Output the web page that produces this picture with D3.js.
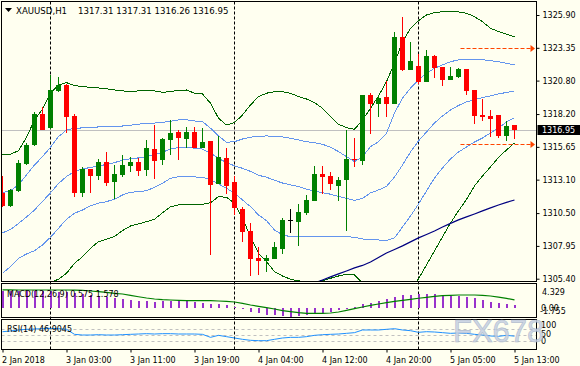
<!DOCTYPE html>
<html lang="en">
<head>
<meta charset="UTF-8">
<title>XAUUSD,H1</title>
<script src="https://d3js.org/d3.v7.min.js"></script>
<style>
  body { margin: 0; background: #fffff0; }
  svg { display: block; font-family: "DejaVu Sans", sans-serif; font-size: 8px; }
</style>
</head>
<body>
<div id="chart"></div>
<script>
// hourly bars, 2 Jan 19:00 .. 5 Jan 13:00 (65 bars)
const open = [1312.09,1311.07,1312.24,1314.32,1315.77,1318.20,1317.09,1319.99,1320.46,1318.05,
  1312.04,1313.93,1313.41,1314.47,1312.94,1313.46,1314.16,1314.47,1313.85,1315.48,
  1314.63,1316.18,1316.83,1316.26,1316.80,1315.56,1316.11,1312.79,1314.78,1312.92,
  1310.82,1309.11,1307.01,1306.80,1306.95,1307.73,1309.94,1309.83,1310.48,1311.46,
  1313.54,1313.38,1312.63,1313.09,1314.68,1314.57,1319.68,1319.00,1319.50,1319.00,
  1324.19,1321.62,1321.96,1320.71,1322.71,1321.86,1320.85,1321.10,1321.70,1320.07,
  1318.13,1318.05,1318.11,1316.52,1317.31];
const high = [1313.38,1312.35,1314.63,1315.97,1318.38,1318.77,1321.24,1321.10,1320.50,1318.20,
  1314.11,1313.95,1314.68,1315.25,1314.22,1315.02,1314.89,1314.76,1316.18,1317.35,
  1316.34,1317.74,1316.96,1317.22,1317.22,1317.09,1316.11,1316.47,1315.56,1313.41,
  1311.00,1309.71,1307.84,1307.24,1308.27,1310.10,1310.82,1311.21,1311.91,1314.18,
  1314.18,1313.67,1313.33,1316.96,1316.36,1319.68,1319.81,1319.68,1320.77,1324.58,
  1325.77,1323.80,1322.84,1323.18,1322.79,1321.86,1321.86,1321.80,1321.70,1320.07,
  1319.39,1318.52,1318.13,1317.64,1317.31];
const low = [1311.00,1311.00,1312.16,1314.26,1315.72,1316.96,1317.01,1319.94,1316.70,1311.73,
  1311.73,1312.04,1313.07,1312.61,1311.62,1313.28,1313.72,1313.41,1313.41,1313.15,
  1314.26,1315.04,1314.63,1315.56,1315.54,1315.56,1307.24,1312.79,1311.98,1310.37,
  1308.28,1305.63,1305.69,1305.94,1306.95,1307.34,1308.93,1307.96,1310.35,1311.46,
  1311.98,1312.30,1311.46,1309.13,1314.06,1314.24,1316.63,1317.95,1317.99,1319.00,
  1321.52,1321.62,1320.56,1320.71,1321.03,1320.40,1320.85,1320.98,1319.68,1317.45,
  1317.66,1316.44,1316.36,1316.11,1316.26];
const close = [1311.07,1312.30,1314.39,1315.79,1318.20,1316.96,1320.07,1320.46,1317.99,1312.04,
  1313.93,1313.41,1314.47,1312.86,1313.54,1314.24,1314.47,1313.80,1315.54,1314.57,
  1316.26,1316.73,1316.34,1316.80,1315.54,1316.03,1312.71,1314.86,1312.63,1310.92,
  1309.05,1306.95,1306.80,1307.03,1307.84,1309.99,1309.94,1310.58,1311.52,1313.54,
  1313.33,1312.79,1313.07,1314.70,1314.63,1319.68,1319.00,1319.45,1318.96,1324.21,
  1321.60,1322.32,1320.69,1322.71,1321.80,1320.85,1321.16,1321.70,1320.02,1318.07,
  1317.99,1317.84,1316.52,1317.27,1316.95];

// bollinger bands (outer = green, inner + middle = blue)
const bbUp2 = [1315.02,1315.07,1315.35,1316.38,1317.74,1318.59,1319.86,1320.44,1320.64,1320.41,
  1320.33,1320.28,1320.23,1320.17,1320.07,1320.00,1319.96,1320.00,1320.00,1320.00,
  1319.89,1319.94,1320.05,1320.07,1319.82,1319.76,1319.04,1317.87,1317.35,1317.53,
  1318.13,1318.91,1319.55,1319.82,1319.94,1319.94,1319.82,1319.55,1319.37,1319.09,
  1318.65,1318.00,1317.41,1317.14,1317.02,1317.74,1318.65,1319.61,1320.72,1322.17,
  1323.83,1324.87,1325.46,1325.90,1326.08,1326.16,1326.16,1326.14,1326.04,1325.77,
  1325.38,1324.87,1324.61,1324.40,1324.22];
const bbUp1 = [1312.09,1312.24,1312.69,1313.47,1314.24,1314.89,1315.62,1316.44,1316.96,1317.10,
  1317.12,1317.14,1317.20,1317.22,1317.25,1317.27,1317.33,1317.41,1317.48,1317.50,
  1317.56,1317.64,1317.74,1317.76,1317.66,1317.61,1317.10,1316.50,1316.01,1316.05,
  1316.26,1316.40,1316.47,1316.50,1316.47,1316.42,1316.32,1316.19,1316.05,1315.98,
  1315.85,1315.62,1315.28,1314.89,1314.50,1314.89,1315.67,1316.05,1316.71,1318.29,
  1319.43,1320.21,1320.85,1321.37,1321.76,1322.02,1322.27,1322.41,1322.46,1322.46,
  1322.43,1322.35,1322.27,1322.15,1322.02];
const bbMid = [1308.96,1309.23,1309.70,1310.20,1310.74,1311.41,1312.07,1312.80,1313.35,1313.74,
  1313.93,1314.05,1314.17,1314.28,1314.42,1314.62,1314.73,1314.79,1314.88,1315.04,
  1315.24,1315.47,1315.60,1315.61,1315.55,1315.48,1315.16,1314.76,1314.42,1314.18,
  1313.98,1313.74,1313.44,1313.29,1313.05,1312.84,1312.69,1312.56,1312.36,1312.21,
  1312.09,1311.97,1311.79,1311.65,1311.49,1311.65,1312.07,1312.30,1312.57,1313.31,
  1314.24,1315.25,1316.11,1316.81,1317.51,1318.05,1318.52,1318.87,1319.14,1319.30,
  1319.49,1319.61,1319.76,1319.88,1320.00];
const bbLow1 = [1305.82,1306.34,1306.99,1307.32,1307.58,1308.02,1308.62,1309.32,1310.02,1310.49,
  1310.74,1311.06,1311.27,1311.39,1311.58,1311.91,1312.12,1312.17,1312.24,1312.51,
  1312.82,1313.21,1313.33,1313.33,1313.31,1313.29,1313.08,1312.77,1312.43,1312.04,
  1311.52,1311.00,1310.36,1309.91,1309.19,1308.80,1308.67,1308.67,1308.67,1308.67,
  1308.67,1308.67,1308.67,1308.67,1308.62,1308.49,1308.41,1308.41,1308.36,1308.57,
  1309.42,1310.28,1311.21,1312.22,1313.23,1314.01,1314.71,1315.25,1315.64,1316.03,
  1316.34,1316.73,1317.12,1317.59,1317.90];
const bbLow2 = [1302.58,1303.28,1304.06,1304.53,1304.68,1304.91,1305.11,1305.36,1305.82,1306.60,
  1307.11,1307.77,1308.28,1308.47,1308.67,1309.14,1309.50,1309.66,1309.83,1310.02,
  1310.53,1311.00,1311.13,1311.16,1311.19,1311.19,1311.31,1311.78,1311.73,1311.27,
  1310.10,1308.67,1307.38,1306.73,1305.95,1305.61,1305.36,1305.23,1305.17,1305.17,
  1305.25,1305.43,1305.61,1305.75,1305.69,1305.07,1304.68,1304.37,1304.06,1303.75,
  1303.90,1304.53,1305.38,1306.47,1307.56,1308.65,1309.73,1310.67,1311.56,1312.61,
  1313.39,1314.09,1314.83,1315.41,1315.95];

// slow moving average (navy), only visible from bar 36 on
const maStart = 36;
const maSlow = [1304.37,1304.60,1304.84,1305.07,1305.30,1305.54,1305.77,1306.00,1306.24,1306.43,
  1306.70,1307.05,1307.40,1307.67,1307.95,1308.26,1308.57,1308.84,1309.11,1309.42,
  1309.70,1309.97,1310.20,1310.43,1310.67,1310.90,1311.13,1311.33,1311.52];

const macdHist = [3.33,3.33,3.33,3.33,3.33,3.27,3.27,3.19,3.13,2.99,
  2.79,2.59,2.39,2.19,1.93,1.68,1.54,1.40,1.34,1.20,
  1.28,1.40,1.34,1.28,1.14,1.00,0.80,0.74,0.54,0.20,
  -0.32,-0.80,-1.12,-1.36,-1.50,-1.62,-1.755,-1.70,-1.55,-1.35,
  -1.12,-0.90,-0.55,-0.20,0.15,0.65,1.00,1.34,1.74,2.19,
  2.47,2.59,2.73,2.79,2.67,2.53,2.39,2.33,2.19,1.88,
  1.54,1.20,1.00,0.74,0.575];
const macdSignal = [3.55,3.54,3.53,3.53,3.53,3.53,3.53,3.53,3.53,3.52,
  3.47,3.33,3.19,3.07,2.87,2.73,2.47,2.19,1.93,1.74,
  1.60,1.54,1.48,1.40,1.40,1.40,1.40,1.34,1.28,1.14,
  0.88,0.54,0.28,0.00,-0.26,-0.60,-0.80,-1.00,-1.12,-1.12,
  -1.12,-1.06,-0.86,-0.52,-0.20,0.14,0.48,0.74,1.00,1.28,
  1.48,1.68,1.88,2.07,2.27,2.39,2.47,2.53,2.53,2.53,
  2.47,2.33,2.10,1.85,1.578];
const macdRange = [-1.755, 4.329];

const rsi = [62.0,64.4,67.8,70.1,71.2,72.3,73.4,72.3,70.1,53.1,
  50.8,50.8,51.9,50.8,50.8,51.9,53.1,54.2,55.4,54.2,
  55.4,55.4,54.2,54.2,54.2,53.1,42.9,49.7,45.2,40.7,
  36.2,32.8,31.6,31.6,36.2,40.7,42.9,42.9,45.2,49.7,
  51.9,53.1,54.2,56.5,58.8,67.8,67.8,67.8,70.1,72.3,
  67.8,65.5,59.9,62.1,61.0,58.8,56.5,57.6,56.5,53.1,
  50.8,47.5,46.3,49.7,46.9045];
const rsiLevels = [30, 50, 70];

const priceTicks = [1305.40, 1307.95, 1310.50, 1313.10, 1315.65, 1318.20, 1320.80, 1323.35, 1325.90];
const timeTickBars = [0, 8, 16, 24, 32, 40, 48, 56, 64];
const timeLabels = ["2 Jan 2018", "3 Jan 03:00", "3 Jan 11:00", "3 Jan 19:00", "4 Jan 04:00",
  "4 Jan 12:00", "4 Jan 20:00", "5 Jan 05:00", "5 Jan 13:00"];
const daySeparators = [6, 29, 52];
const levelPrices = [1323.35, 1315.90];
const levelFrom = 57.25;
const lastPrice = 1316.95;

const W = 580, H = 366;
const L = 1.5, R = 536.5;
const mainBox = { top: 1.5, bottom: 281.5 };
const macdBox = { top: 283.5, bottom: 317.5 };
const rsiBox = { top: 319.5, bottom: 349.5 };

const x = d3.scaleLinear().domain([0, 64]).range([2.5, 514.5]);
const y = d3.scaleLinear().domain([1305.40, 1325.90]).range([278.7, 15]);
const yMacd = d3.scaleLinear().domain(macdRange).range([316.5, 286]);
const yRsi = d3.scaleLinear().domain([0, 100]).range([350, 320.5]);

const svg = d3.select("#chart").append("svg").attr("width", W).attr("height", H);
svg.append("rect").attr("width", W).attr("height", H).attr("fill", "#fffff0");

const defs = svg.append("defs");
function clip(id, box) {
  defs.append("clipPath").attr("id", id).append("rect")
    .attr("x", L).attr("y", box.top).attr("width", R - L).attr("height", box.bottom - box.top);
}
clip("clipMain", mainBox); clip("clipMacd", macdBox); clip("clipRsi", rsiBox);

// day separators run through all three panes
svg.append("g").selectAll("line").data(daySeparators).join("line")
  .attr("x1", d => x(d)).attr("x2", d => x(d))
  .attr("y1", mainBox.top).attr("y2", rsiBox.bottom)
  .attr("stroke", "#000").attr("stroke-dasharray", "3,2");

// ---- main pane
const gMain = svg.append("g").attr("clip-path", "url(#clipMain)");

gMain.append("line").attr("x1", L).attr("x2", R)
  .attr("y1", Math.round(y(lastPrice)) + 0.5).attr("y2", Math.round(y(lastPrice)) + 0.5)
  .attr("stroke", "#c0c0c0");

const line = d3.line().x((d, i) => x(i)).y(d => y(d));
const bands = [
  { v: bbUp2, c: "#006400" }, { v: bbLow2, c: "#006400" },
  { v: bbUp1, c: "#6495ed" }, { v: bbMid, c: "#6495ed" }, { v: bbLow1, c: "#6495ed" }
];
bands.forEach(b => {
  gMain.append("path").attr("d", line(b.v)).attr("fill", "none")
    .attr("stroke", b.c).attr("stroke-width", 1).attr("shape-rendering", "crispEdges");
});
gMain.append("path")
  .attr("d", d3.line().x((d, i) => x(i + maStart)).y(d => y(d))(maSlow))
  .attr("fill", "none").attr("stroke", "#000080").attr("stroke-width", 1.25);

const candleColor = i => close[i] > open[i] ? "#008000" : close[i] < open[i] ? "#ff0000" : "#000000";
const candles = gMain.append("g").attr("shape-rendering", "crispEdges")
  .selectAll("g").data(d3.range(open.length)).join("g");
candles.append("line")
  .attr("x1", i => x(i)).attr("x2", i => x(i))
  .attr("y1", i => y(high[i])).attr("y2", i => y(low[i]))
  .attr("stroke", candleColor);
candles.append("rect")
  .attr("x", i => x(i) - 2.5).attr("width", 5)
  .attr("y", i => y(Math.max(open[i], close[i])))
  .attr("height", i => Math.max(1, Math.abs(y(open[i]) - y(close[i]))))
  .attr("fill", candleColor);

// horizontal level lines with arrow heads
levelPrices.forEach(p => {
  const yy = Math.round(y(p)) + 0.5;
  gMain.append("line").attr("x1", x(levelFrom)).attr("x2", R - 6)
    .attr("y1", yy).attr("y2", yy)
    .attr("stroke", "#ff4500").attr("stroke-dasharray", "4,2");
  gMain.append("path")
    .attr("d", `M${R - 6},${yy - 3.5}L${R - 1.5},${yy}L${R - 6},${yy + 3.5}Z`)
    .attr("fill", "#ff4500");
});

// price axis
const yAxis = svg.append("g").attr("transform", `translate(${R},0)`)
  .call(d3.axisRight(y).tickValues(priceTicks).tickSize(3).tickPadding(3).tickFormat(d3.format(".2f")));
yAxis.select(".domain").remove();
yAxis.selectAll("text").attr("font-family", "DejaVu Sans").attr("font-size", 8).attr("fill", "#000");

const lp = Math.round(y(lastPrice));
svg.append("rect").attr("x", 537.5).attr("y", lp - 5).attr("width", 43).attr("height", 10).attr("fill", "#000");
svg.append("text").attr("x", 542).attr("y", lp).attr("dy", "0.34em")
  .attr("fill", "#fff").text(d3.format(".2f")(lastPrice));

// header
svg.append("path").attr("d", "M5,8L12,8L8.5,12Z").attr("fill", "#000");
svg.append("text").attr("x", 16).attr("y", 13.5).attr("font-size", 8.6).text("XAUUSD,H1");
svg.append("text").attr("x", 78).attr("y", 13.5).attr("font-size", 8.6)
  .text([open, high, low, close].map(a => d3.format(".2f")(a[a.length - 1])).join(" "));

// ---- MACD pane
const gMacd = svg.append("g").attr("clip-path", "url(#clipMacd)");
gMacd.append("g").attr("shape-rendering", "crispEdges")
  .selectAll("rect").data(macdHist).join("rect")
  .attr("x", (d, i) => x(i) - 0.5).attr("width", 2)
  .attr("y", d => Math.min(yMacd(0), yMacd(d)))
  .attr("height", d => Math.abs(yMacd(d) - yMacd(0)))
  .attr("fill", "#9932cc");
gMacd.append("path")
  .attr("d", d3.line().x((d, i) => x(i)).y(d => yMacd(d))(macdSignal))
  .attr("fill", "none").attr("stroke", "#008000").attr("stroke-width", 1.2);
svg.append("text").attr("x", 7).attr("y", 297)
  .text(`MACD(12,26,9) ${macdHist[macdHist.length - 1].toFixed(3)} ${macdSignal[macdSignal.length - 1].toFixed(3)}`);
svg.append("text").attr("x", 542).attr("y", 294.5).text(macdRange[1].toFixed(3));
svg.append("text").attr("x", 541).attr("y", 310.5).text("0.00");
svg.append("text").attr("x", 540).attr("y", 313.5).text(macdRange[0].toFixed(3));

// ---- RSI pane
const gRsi = svg.append("g").attr("clip-path", "url(#clipRsi)");
gRsi.selectAll("line").data(rsiLevels).join("line")
  .attr("x1", L).attr("x2", R)
  .attr("y1", d => Math.round(yRsi(d)) + 0.5).attr("y2", d => Math.round(yRsi(d)) + 0.5)
  .attr("stroke", "#c0c0c0").attr("stroke-dasharray", "3,3");
gRsi.append("path")
  .attr("d", d3.line().x((d, i) => x(i)).y(d => yRsi(d))(rsi))
  .attr("fill", "none").attr("stroke", "#1e90ff").attr("stroke-width", 1);
svg.append("text").attr("x", 7).attr("y", 331.5).text(`RSI(14) ${rsi[rsi.length - 1].toFixed(4)}`);
svg.append("text").attr("x", 541).attr("y", 327.5).text("100");
svg.append("text").attr("x", 541).attr("y", 337).text("50");
svg.append("text").attr("x", 541).attr("y", 343.5).text("0");

// time axis
const xAxis = svg.append("g").attr("transform", `translate(0,${rsiBox.bottom})`)
  .call(d3.axisBottom(x).tickValues(timeTickBars).tickSize(3).tickPadding(4.5)
    .tickFormat((d, i) => timeLabels[i]));
xAxis.select(".domain").remove();
xAxis.selectAll("text").attr("text-anchor", "start").attr("x", -1)
  .attr("font-family", "DejaVu Sans").attr("font-size", 8).attr("fill", "#000");

// pane frames
[mainBox, macdBox, rsiBox].forEach(b => {
  svg.append("rect").attr("x", L).attr("y", b.top).attr("width", R - L).attr("height", b.bottom - b.top)
    .attr("fill", "none").attr("stroke", "#000").attr("shape-rendering", "crispEdges");
});

// watermark
svg.append("text").attr("x", 453).attr("y", 342)
  .attr("font-family", "Liberation Sans, Arial, sans-serif").attr("font-size", 31)
  .attr("fill", "#c6d0e2").attr("stroke", "#a6b3ca").attr("stroke-width", 0.6)
  .attr("opacity", 0.85).text("FX678");
</script>
</body>
</html>
